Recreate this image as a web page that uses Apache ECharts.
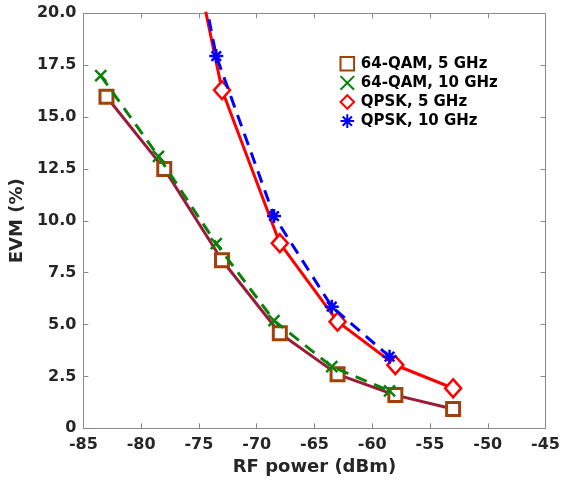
<!DOCTYPE html>
<html>
<head>
<meta charset="utf-8">
<script src="https://cdn.jsdelivr.net/npm/echarts@6/dist/echarts.min.js"></script>
<style>html,body{margin:0;padding:0;background:#fff}#c{width:563px;height:485px}</style>
</head>
<body>
<div id="c"></div>
<script>
// ---- data ----
const seriesNames = ['64-QAM, 5 GHz', '64-QAM, 10 GHz', 'QPSK, 5 GHz', 'QPSK, 10 GHz'];
const qam5x = [-83, -78, -73, -68, -63, -58, -53];
const qam5y = [15.98, 12.5, 8.1, 4.58, 2.6, 1.6, 0.93];
const qam10x = [-83.5, -78.5, -73.5, -68.5, -63.5, -58.5];
const qam10y = [17.0, 13.1, 8.9, 5.19, 2.97, 1.80];
const qpsk5x = [-78, -73, -68, -63, -58, -53];
const qpsk5y = [29.7, 16.3, 8.92, 5.14, 3.05, 1.93];
const qpsk10x = [-78.5, -73.5, -68.5, -63.5, -58.5];
const qpsk10y = [32.0, 17.94, 10.23, 5.86, 3.45];
const xTicks = [-85, -80, -75, -70, -65, -60, -55, -50, -45];
const yTicks = [0, 2.5, 5, 7.5, 10, 12.5, 15, 17.5, 20];

function pairs(xs, ys) { return xs.map((x, i) => [x, ys[i]]); }

const FONT = 'DejaVu Sans';
const axisColor = '#8a8a8a';
const textColor = '#262626';
const xMin = xTicks[0], xMax = xTicks[xTicks.length - 1], xInt = xTicks[1] - xTicks[0];
const yMin = yTicks[0], yMax = yTicks[yTicks.length - 1], yInt = yTicks[1] - yTicks[0];

const xMark = 'path://M0,0L10,10M10,0L0,10';
const asterisk = 'path://M5,0L5,10M0,5L10,5M1.6,1.6L8.4,8.4M8.4,1.6L1.6,8.4';

const chart = echarts.init(document.getElementById('c'), null, { renderer: 'canvas' });
chart.setOption({
  animation: false,
  backgroundColor: '#fff',
  grid: { left: 77.5, right: 15.5, top: 13.3, bottom: 56.7, containLabel: false },
  legend: {
    left: 333, top: 51, orient: 'vertical',
    itemWidth: 17, itemHeight: 17, itemGap: 2,
    lineStyle: { width: 0 },
    textStyle: { fontFamily: FONT, fontWeight: 'bold', fontSize: 15, color: '#000' },
    data: seriesNames
  },
  xAxis: [{
    type: 'value', min: xMin, max: xMax, interval: xInt,
    name: 'RF power (dBm)', nameLocation: 'middle', nameGap: 30,
    nameTextStyle: { fontFamily: FONT, fontWeight: 'bold', fontSize: 18, color: textColor, verticalAlign: 'top' },
    axisLine: { onZero: false, lineStyle: { color: axisColor, width: 1 } },
    axisTick: { inside: true, length: 5, lineStyle: { color: axisColor } },
    axisLabel: { margin: 9, fontFamily: FONT, fontWeight: 'bold', fontSize: 16, color: textColor },
    splitLine: { show: false }
  }, {
    type: 'value', position: 'top', min: xMin, max: xMax, interval: xInt,
    axisLine: { onZero: false, lineStyle: { color: axisColor, width: 1 } },
    axisTick: { inside: true, length: 5, lineStyle: { color: axisColor } },
    axisLabel: { show: false }, splitLine: { show: false }
  }],
  yAxis: [{
    type: 'value', min: yMin, max: yMax, interval: yInt,
    name: 'EVM (%)', nameLocation: 'middle', nameGap: 41,
    nameTextStyle: { fontFamily: FONT, fontWeight: 'bold', fontSize: 18, color: textColor },
    axisLine: { show: true, onZero: false, lineStyle: { color: axisColor, width: 1 } },
    axisTick: { show: true, inside: true, length: 5, lineStyle: { color: axisColor } },
    axisLabel: { margin: 7, fontFamily: FONT, fontWeight: 'bold', fontSize: 16, color: textColor,
      formatter: v => v === 0 ? '0' : v.toFixed(1) },
    splitLine: { show: false }
  }, {
    type: 'value', position: 'right', min: yMin, max: yMax, interval: yInt,
    axisLine: { show: true, onZero: false, lineStyle: { color: axisColor, width: 1 } },
    axisTick: { show: true, inside: true, length: 5, lineStyle: { color: axisColor } },
    axisLabel: { show: false }, splitLine: { show: false }
  }],
  series: [{
    name: seriesNames[0], type: 'line', data: pairs(qam5x, qam5y),
    symbol: 'rect', symbolSize: 13,
    itemStyle: { color: '#ffffff', borderColor: '#a0400b', borderWidth: 3 },
    lineStyle: { color: '#9c1a3a', width: 3 }, z: 2
  }, {
    name: seriesNames[1], type: 'line', data: pairs(qam10x, qam10y),
    symbol: xMark, symbolSize: 11,
    itemStyle: { color: 'none', borderColor: '#0a820a', borderWidth: 2.5 },
    lineStyle: { color: '#0a820a', width: 3, type: [12, 8] }, z: 3
  }, {
    name: seriesNames[2], type: 'line', data: pairs(qpsk5x, qpsk5y),
    symbol: 'diamond', symbolSize: [16, 18],
    itemStyle: { color: '#ffffff', borderColor: '#ff0000', borderWidth: 2.5 },
    lineStyle: { color: '#ff0000', width: 3 }, z: 4
  }, {
    name: seriesNames[3], type: 'line', data: pairs(qpsk10x, qpsk10y),
    symbol: asterisk, symbolSize: 14,
    itemStyle: { color: 'none', borderColor: '#0000ff', borderWidth: 2.5 },
    lineStyle: { color: '#0000ff', width: 3, type: [12, 8] }, z: 5
  }]
});
</script>
</body>
</html>
